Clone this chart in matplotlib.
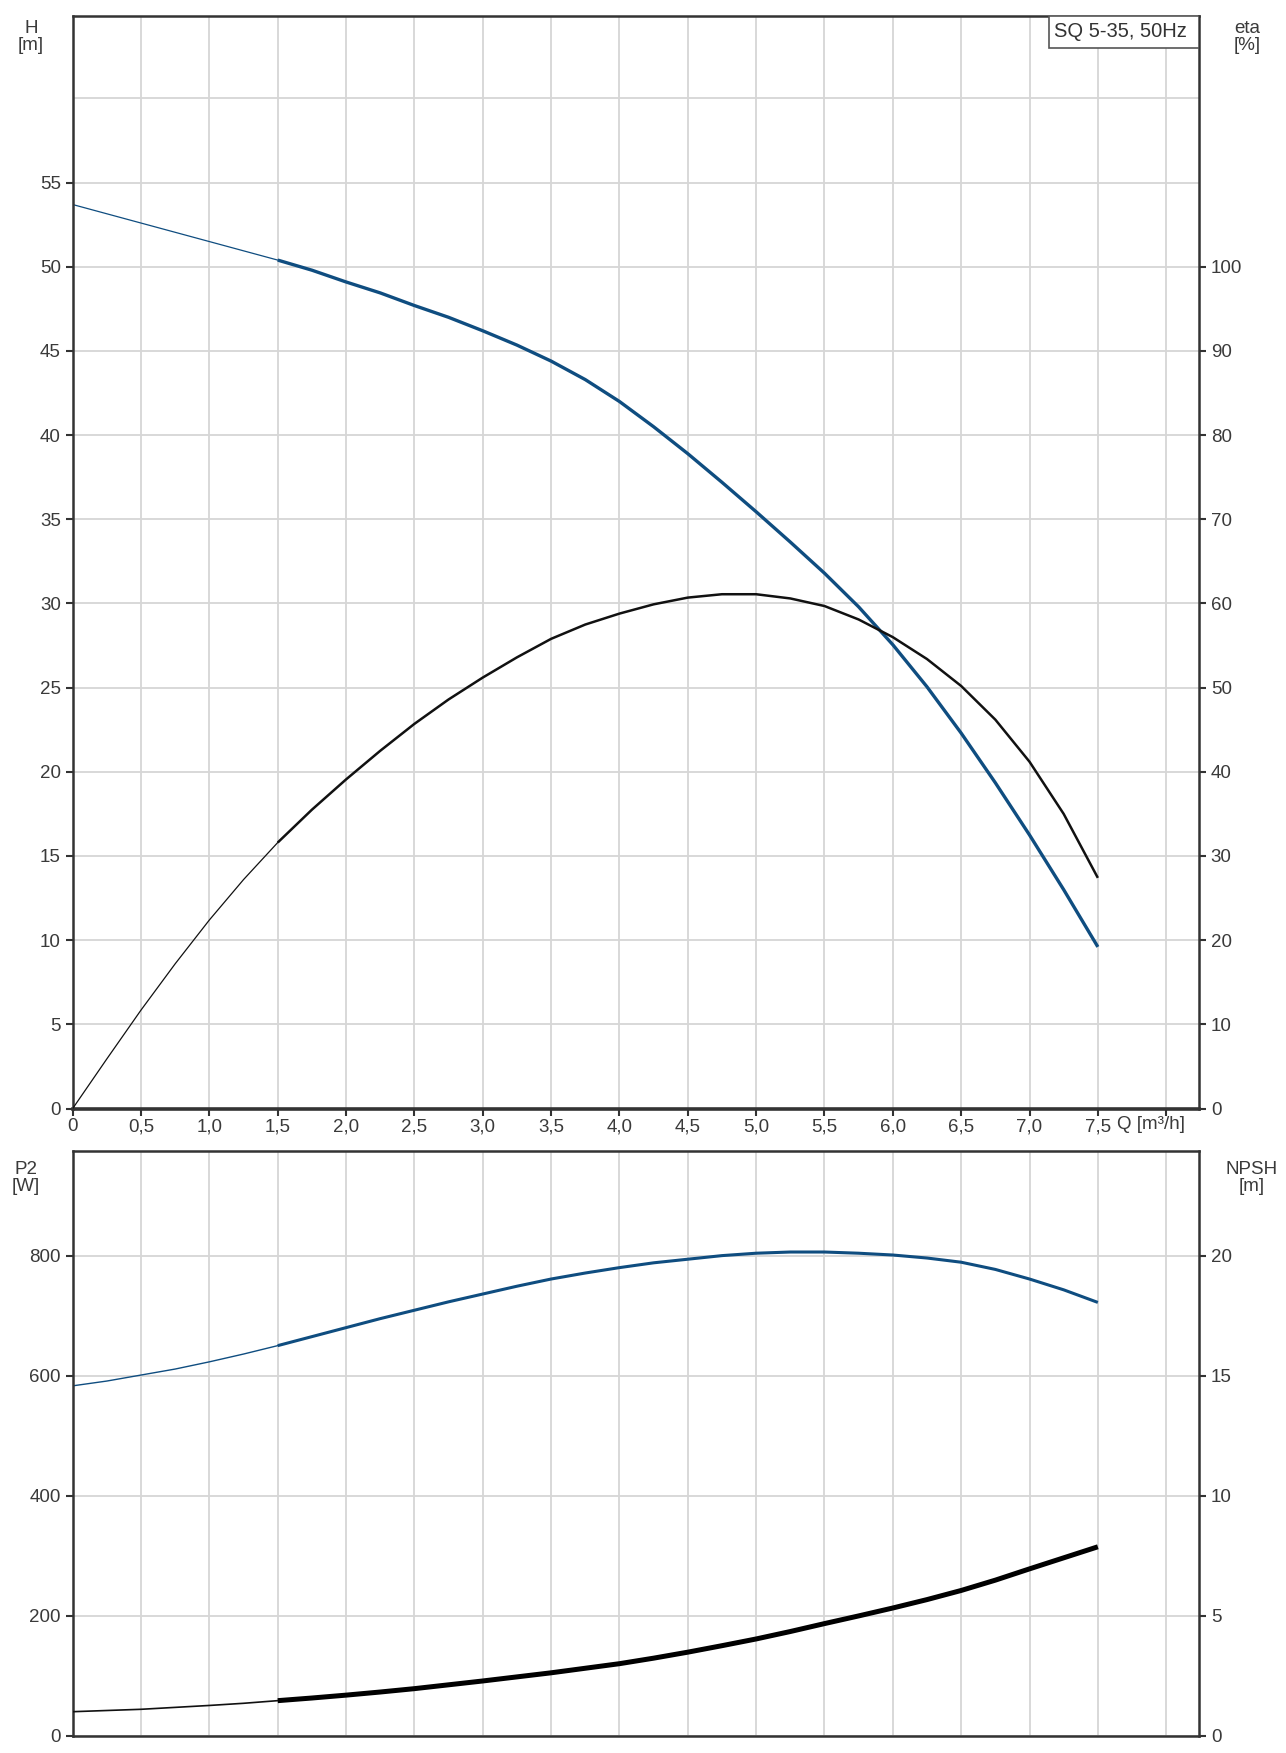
import matplotlib.pyplot as plt
from matplotlib.patches import Rectangle
from matplotlib.transforms import blended_transform_factory

plt.rcParams['font.family'] = ['Liberation Sans', 'DejaVu Sans']

# flow Q [m3/h] at which the curves were read (quarter steps)
q = [0.0, 0.25, 0.5, 0.75, 1.0, 1.25, 1.5, 1.75, 2.0, 2.25, 2.5, 2.75, 3.0, 3.25, 3.5, 3.75,
     4.0, 4.25, 4.5, 4.75, 5.0, 5.25, 5.5, 5.75, 6.0, 6.25, 6.5, 6.75, 7.0, 7.25, 7.5]
head = [53.7, 53.15, 52.6, 52.05, 51.5, 50.95, 50.4, 49.8, 49.1, 48.45, 47.7, 47.0, 46.2, 45.35,
        44.4, 43.3, 42.0, 40.5, 38.9, 37.2, 35.45, 33.65, 31.8, 29.8, 27.55, 25.05, 22.3, 19.35,
        16.25, 13.0, 9.6]
eta = [0.0, 5.9, 11.7, 17.2, 22.4, 27.2, 31.6, 35.5, 39.1, 42.5, 45.7, 48.6, 51.2, 53.6, 55.8,
       57.5, 58.8, 59.9, 60.7, 61.1, 61.1, 60.6, 59.7, 58.1, 56.0, 53.4, 50.2, 46.2, 41.2, 35.0,
       27.4]
p2 = [583, 591, 601, 611, 623, 636, 650, 665, 680, 695, 709, 723, 736, 749, 761, 771, 780, 788,
      794, 800, 804, 806, 806, 804, 801, 796, 789, 777, 761, 743, 722]
npsh = [1.0, 1.05, 1.1, 1.18, 1.26, 1.35, 1.46, 1.57, 1.69, 1.82, 1.96, 2.12, 2.28, 2.45, 2.62,
        2.81, 3.0, 3.23, 3.48, 3.75, 4.03, 4.34, 4.67, 4.99, 5.32, 5.67, 6.05, 6.48, 6.95, 7.41,
        7.87]

x_ticks = [i * 0.5 for i in range(17)]
x_labels = [('%.1f' % v).replace('.', ',') if v > 0 else '0' for v in x_ticks]
x_labels[-1] = ''
h_ticks = list(range(0, 60, 5))
eta_ticks = list(range(0, 110, 10))
p2_ticks = [0, 200, 400, 600, 800]
npsh_ticks = [0, 5, 10, 15, 20]

split = q.index(1.5)  # start of the operating range

blue = '#0f4d80'
dark = '#333333'
txt = '#3a3a3a'
grid_c = '#d6d6d6'
fs = 13.5

W, H = 1286, 1753
fig = plt.figure(figsize=(W / 100, H / 100), dpi=100)

left, right = 72.7 / W, 1199 / W
ax = fig.add_axes([left, 1 - 1108.5 / H, right - left, (1108.5 - 16) / H])
axb = fig.add_axes([left, 1 - 1735.7 / H, right - left, (1735.7 - 1150.6) / H])


def style(a):
    a.set_xlim(0, 8.24)
    a.set_xticks(x_ticks)
    a.grid(True, color=grid_c, lw=1.3)
    a.set_axisbelow(True)
    for s in a.spines.values():
        s.set_color(dark)
        s.set_linewidth(1.8)
    a.tick_params(colors=dark, labelcolor=txt, labelsize=fs, length=5, width=1.5)


def twin(a, top, ticks):
    b = a.twinx()
    b.set_ylim(0, top)
    b.set_yticks(ticks)
    b.tick_params(colors=dark, labelcolor=txt, labelsize=fs, length=5, width=1.5)
    for s in b.spines.values():
        s.set_visible(False)
    return b


# upper chart: head and efficiency
style(ax)
ax.set_ylim(0, 64.9)
ax.set_yticks(h_ticks)
ax.axhline(60, color=grid_c, lw=1.3, zorder=0)
ax.set_xticklabels(x_labels)
ax.tick_params(axis='x', pad=2)
ax.spines['bottom'].set_linewidth(2.6)
ax.plot(q[:split + 1], head[:split + 1], color=blue, lw=0.9)
ax.plot(q[split:], head[split:], color=blue, lw=2.4, solid_capstyle='butt')

ax2 = twin(ax, 64.9 * 2, eta_ticks)
ax2.plot(q[:split + 1], eta[:split + 1], color='#111111', lw=0.9)
ax2.plot(q[split:], eta[split:], color='#111111', lw=1.8, solid_capstyle='butt')

trans = blended_transform_factory(ax.transData, ax.transAxes)
ax.text(7.64, -0.007, 'Q [m³/h]', transform=trans, ha='left', va='top',
        fontsize=fs, color=txt)

ax.add_patch(Rectangle((0.8668, 0.9707), 1 - 0.8668, 1 - 0.9707, transform=ax.transAxes,
                       facecolor='white', edgecolor='#555555', lw=1.2, zorder=5))
ax.text(0.871, 0.9856, 'SQ 5-35, 50Hz', transform=ax.transAxes, ha='left', va='center',
        fontsize=14.5, color='#333333', zorder=6)

fig.text(31 / W, 1 - 37 / H, 'H\n[m]', ha='center', va='center', fontsize=fs,
         color=txt, linespacing=1.0)
fig.text(1247 / W, 1 - 37 / H, 'eta\n[%]', ha='center', va='center', fontsize=fs,
         color=txt, linespacing=1.0)

# lower chart: power and NPSH
style(axb)
axb.set_ylim(0, 975)
axb.set_yticks(p2_ticks)
axb.set_xticklabels([])
axb.tick_params(axis='x', length=0)
axb.plot(q[:split + 1], p2[:split + 1], color=blue, lw=1.0)
axb.plot(q[split:], p2[split:], color=blue, lw=2.2, solid_capstyle='butt')

axb2 = twin(axb, 975 / 40, npsh_ticks)
axb2.plot(q[:split + 1], npsh[:split + 1], color='#111111', lw=1.2)
axb2.plot(q[split:], npsh[split:], color='#000000', lw=3.6, solid_capstyle='butt')

fig.text(26 / W, 1 - 1178 / H, 'P2\n[W]', ha='center', va='center', fontsize=fs,
         color=txt, linespacing=1.0)
fig.text(1252 / W, 1 - 1178 / H, 'NPSH\n[m]', ha='center', va='center', fontsize=fs,
         color=txt, linespacing=1.0)

fig.savefig('out.png', dpi=100, facecolor='white')
